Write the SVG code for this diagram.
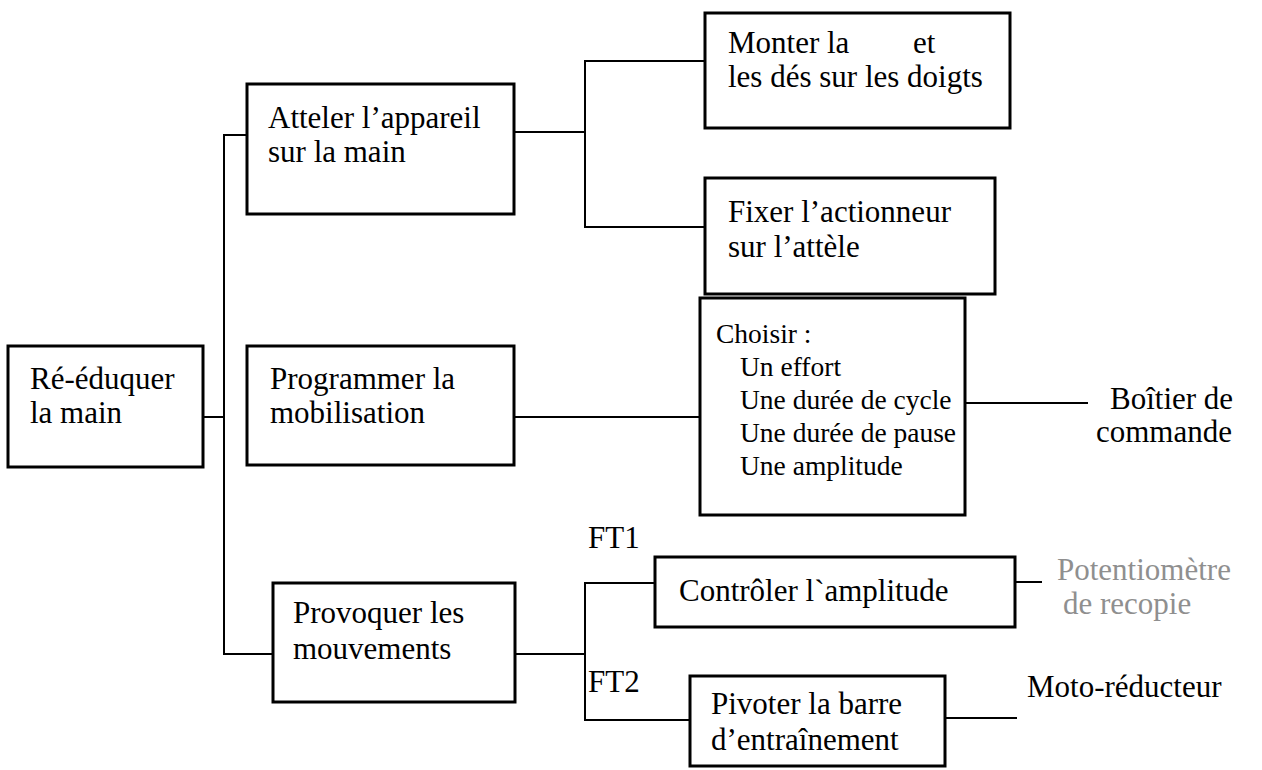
<svg xmlns="http://www.w3.org/2000/svg" width="1262" height="770" viewBox="0 0 1262 770" font-family="'Liberation Serif', 'DejaVu Serif', serif">
<style>
  .box { fill: #fff; stroke: #000; stroke-width: 3; }
  .t { font-family: 'Liberation Serif', 'Times New Roman', 'DejaVu Serif', serif; font-size: 31px; fill: #000; }
  .s { font-size: 27.5px; }
  .faint { fill: #8f8f8f; }
  .c { fill: none; stroke: #000; stroke-width: 2; }
</style>
<rect width="1262" height="770" fill="#fff"/>
<g id="connectors">
  <polyline class="c" points="203,417 224,417"/>
  <polyline class="c" points="247,135 224,135 224,654 273,654"/>
  <polyline class="c" points="514,132 585,132"/>
  <polyline class="c" points="705,61 585,61 585,227 705,227"/>
  <polyline class="c" points="514,417 700,417"/>
  <polyline class="c" points="965,403 1088,403"/>
  <polyline class="c" points="515,654 585,654"/>
  <polyline class="c" points="655,583 585,583 585,720 690,720"/>
  <polyline class="c" points="1015,582 1042,582"/>
  <polyline class="c" points="945,718 1017,718"/>
</g>
<g id="n-reeduquer">
  <rect class="box" x="8" y="346" width="195" height="121"/>
  <text class="t" x="30" y="389">Ré-éduquer</text>
  <text class="t" x="30" y="423">la main</text>
</g>
<g id="n-atteler">
  <rect class="box" x="247" y="84" width="267" height="130"/>
  <text class="t" x="268" y="128">Atteler l’appareil</text>
  <text class="t" x="268" y="162">sur la main</text>
</g>
<g id="n-monter">
  <rect class="box" x="705" y="13" width="305" height="115"/>
  <text class="t" x="728" y="53">Monter la</text>
  <text class="t" x="913" y="53">et</text>
  <text class="t" x="728" y="87">les dés sur les doigts</text>
</g>
<g id="n-fixer">
  <rect class="box" x="705" y="178" width="290" height="116"/>
  <text class="t" x="728" y="222">Fixer l’actionneur</text>
  <text class="t" x="728" y="257">sur l’attèle</text>
</g>
<g id="n-programmer">
  <rect class="box" x="247" y="346" width="267" height="119"/>
  <text class="t" x="270" y="389">Programmer la</text>
  <text class="t" x="270" y="423">mobilisation</text>
</g>
<g id="n-choisir">
  <rect class="box" x="700" y="298" width="265" height="217"/>
  <text class="t s" x="716" y="343">Choisir :</text>
  <text class="t s" x="740" y="376">Un effort</text>
  <text class="t s" x="740" y="409">Une durée de cycle</text>
  <text class="t s" x="740" y="442">Une durée de pause</text>
  <text class="t s" x="740" y="475">Une amplitude</text>
</g>
<g id="n-boitier">
  <text class="t" x="1110" y="409">Boîtier de</text>
  <text class="t" x="1096" y="442">commande</text>
</g>
<g id="n-provoquer">
  <rect class="box" x="273" y="583" width="242" height="119"/>
  <text class="t" x="293" y="623">Provoquer les</text>
  <text class="t" x="293" y="659">mouvements</text>
</g>
<g id="n-controler">
  <text class="t" x="588" y="548">FT1</text>
  <rect class="box" x="655" y="557" width="360" height="70"/>
  <text class="t" x="679" y="601">Contrôler l`amplitude</text>
</g>
<g id="n-potentiometre">
  <text class="t faint" x="1057" y="580">Potentiomètre</text>
  <text class="t faint" x="1063" y="614">de recopie</text>
</g>
<g id="n-pivoter">
  <text class="t" x="588" y="692">FT2</text>
  <rect class="box" x="690" y="676" width="255" height="90"/>
  <text class="t" x="711" y="714">Pivoter la barre</text>
  <text class="t" x="711" y="750">d’entraînement</text>
</g>
<g id="n-moto">
  <text class="t" x="1027" y="697">Moto-réducteur</text>
</g>
</svg>
